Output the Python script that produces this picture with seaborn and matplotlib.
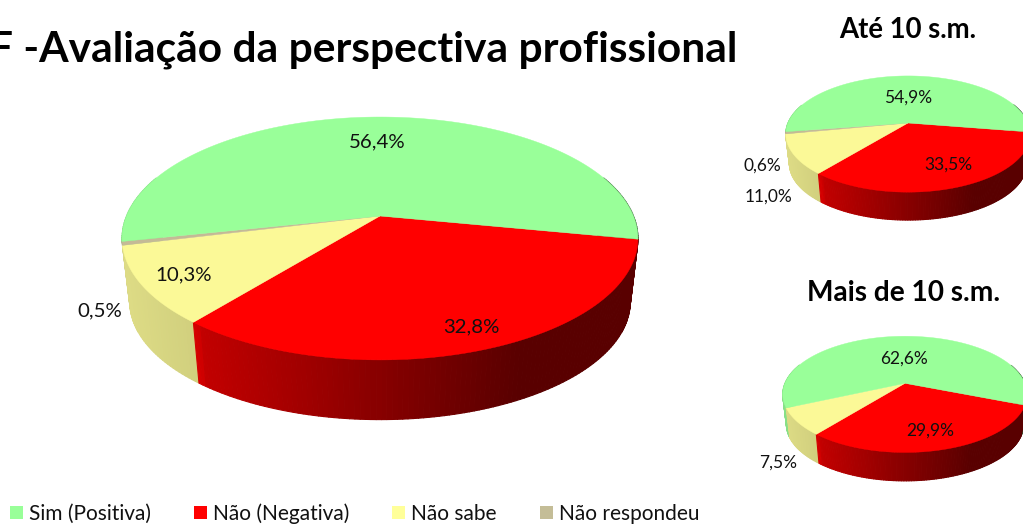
import numpy as np
import matplotlib
matplotlib.use("Agg")
import matplotlib.pyplot as plt
from matplotlib.collections import PolyCollection
from matplotlib.patches import Patch
import seaborn as sns

# ---- data
categories = ["Sim (Positiva)", "Não (Negativa)", "Não sabe", "Não respondeu"]
total_values = [56.4, 32.8, 10.3, 0.5]
ate10_values = [54.9, 33.5, 11.0, 0.6]
mais10_values = [62.6, 29.9, 7.5, 0.0]
title_text = "F -Avaliação da perspectiva profissional"
ate10_title = "Até 10 s.m."
mais10_title = "Mais de 10 s.m."

sns.set_theme(style="white")
plt.rcParams["font.family"] = ["Lato", "DejaVu Sans"]

top_colors = sns.color_palette(["#99FF99", "#FF0000", "#FBF997", "#C4BA96"])
legend_colors = sns.color_palette(["#99FF99", "#FF0000", "#FFFF99", "#C4BD97"])

fig = plt.figure(figsize=(10.23, 5.24), dpi=100)
ax = fig.add_axes([0, 0, 1, 1])
ax.set_xlim(0, 1023)
ax.set_ylim(524, 0)
ax.axis("off")


def project(t, a, b, k):
    """Perspective view of a unit circle: angle t (deg) to offsets from the apex."""
    u, v = np.cos(np.radians(t)), np.sin(np.radians(t))
    w = 1 + k * v
    return a * u / w, b * v / w


def shade(frac):
    return np.interp(frac, [-1, -0.72, -0.70, 0.55, 1], [0.88, 0.83, 0.76, 0.35, 0.35])


def pie3d(values, start, cx, cy, a, b, k, depth, labels, size):
    # slices run clockwise from the red one; the green one closes the circle
    order = [1, 2, 3, 0]
    sweep = np.array([values[i] for i in order]) * 3.6
    edges = start - np.r_[0, np.cumsum(sweep)]
    spans = list(zip(edges[:-1], edges[1:]))
    # side wall, far quads first so that nearer ones cover them
    quads = []
    for (t0, t1), i in zip(spans, order):
        if abs(t0 - t1) < 1e-6:
            continue
        n = max(int(abs(t0 - t1)), 2)
        ts = np.linspace(t0, t1, n)
        for ta, tb in zip(ts[:-1], ts[1:]):
            mid = ((ta + tb) / 2 + 360) % 360
            if 20 < mid < 160:
                continue
            xa, ya = project(ta, a, b, k)
            xb, yb = project(tb, a, b, k)
            poly = [(cx + xa, cy - ya), (cx + xb, cy - yb),
                    (cx + 0.97 * xb, cy - 0.97 * yb + depth),
                    (cx + 0.97 * xa, cy - 0.97 * ya + depth)]
            f = shade((xa + xb) / 2 / a)
            quads.append((np.sin(np.radians(mid)), poly, tuple(np.array(top_colors[i]) * f)))
    quads.sort(key=lambda q: -q[0])
    polys = [q[1] for q in quads]
    cols = [q[2] for q in quads]
    ax.add_collection(PolyCollection(polys, facecolors=cols, edgecolors=cols,
                                     linewidths=0.8, zorder=2))
    # top face
    for (t0, t1), i in zip(spans, order):
        if abs(t0 - t1) < 1e-6:
            continue
        ts = np.linspace(t0, t1, 240)
        xs, ys = project(ts, a, b, k)
        ax.fill(np.r_[cx, cx + xs], np.r_[cy, cy - ys], color=top_colors[i],
                lw=0.3, zorder=3)
    # value labels
    for text_value, (lx, ly) in labels:
        ax.text(lx, ly, f"{text_value:.1f}%".replace(".", ","), ha="center", va="center",
                fontsize=size, color="#111111", zorder=5)


pie3d(total_values, -11, 380, 216, 253.5, 117.3, 0.185, 64,
      [(total_values[0], (377, 142)), (total_values[1], (471, 327)),
       (total_values[2], (184, 275)), (total_values[3], (100, 311))], 14.7)
pie3d(ate10_values, -9, 908, 123, 120, 56, 0.19, 30,
      [(ate10_values[0], (908, 98)), (ate10_values[1], (948, 165)),
       (ate10_values[3], (762, 166)), (ate10_values[2], (769, 197))], 12.5)
pie3d(mais10_values, -21.4, 905, 383.3, 120, 56, 0.19, 30.5,
      [(mais10_values[0], (904, 359)), (mais10_values[1], (930, 431)),
       (mais10_values[2], (778, 463))], 12.5)

ax.text(737, 49.5, title_text, ha="right", va="center", fontsize=30.6,
        fontweight="bold", color="black")
ax.text(908, 30, ate10_title, ha="center", va="center", fontsize=19.8,
        fontweight="bold", color="black")
ax.text(904, 293, mais10_title, ha="center", va="center", fontsize=20.2,
        fontweight="bold", color="black")

handles = [Patch(facecolor=c, edgecolor="none", label=l) for c, l in zip(legend_colors, categories)]
leg = ax.legend(handles=handles, ncols=4, loc="lower left",
                bbox_to_anchor=(8 / 1023, -0.004), frameon=False, fontsize=15,
                handlelength=0.62, handleheight=0.62, handletextpad=0.3,
                columnspacing=2.05, borderaxespad=0, borderpad=0.1, labelcolor="#111111")

fig.savefig("out.png", dpi=100)
